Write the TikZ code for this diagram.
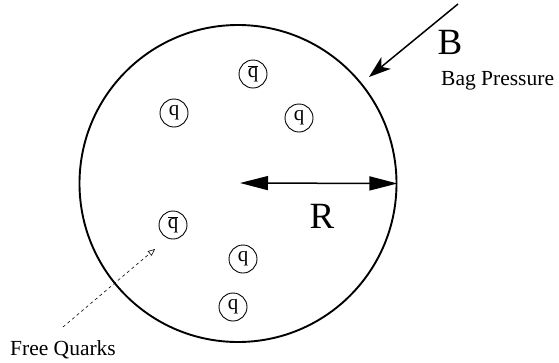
\documentclass[tikz,border=0pt]{standalone}
\usepackage{fontspec}
\setmainfont{Liberation Serif}
\usetikzlibrary{arrows.meta}
\begin{document}
\begin{tikzpicture}[x=1pt,y=-1pt,
  quark/.style={draw,circle,line width=0.9pt,minimum size=28pt,inner sep=0pt,font=\fontsize{21}{21}\selectfont},
  lbl/.style={inner sep=0pt,font=\fontsize{21.5}{21.5}\selectfont},
  big/.style={inner sep=0pt,font=\fontsize{37}{37}\selectfont}]
\useasboundingbox (0,0) rectangle (559,362);
\node[draw,circle,line width=1.9pt,minimum size=317pt,inner sep=0pt] (bag) at (238,183.5) {};
\node[quark] (qb1) at (253,74) {$\overline{\hbox{q}}$};
\node[quark] (q1) at (174,113) {q};
\node[quark] (q2) at (299,118) {q};
\node[quark] (qb2) at (173,225) {$\overline{\hbox{q}}$};
\node[quark] (q3) at (243,259) {q};
\node[quark] (q4) at (233,307) {q};
\coordinate (c) at (240,183);
\draw[line width=1.5pt,{Triangle[length=28pt,width=14pt]}-{Triangle[length=28pt,width=14pt]}] (c) -- (bag.east);
\node[big] (R) at (322,216) {R};
\coordinate (bs) at (458,4);
\coordinate (be) at (369,77);
\draw[line width=1.5pt,-{Stealth[length=22pt,width=15pt,inset=6pt]}] (bs) -- (be);
\node[big] (B) at (450,42) {B};
\node[lbl,anchor=base west] (bp) at (441,85) {Bag Pressure};
\node[lbl] (fq) at (63,350) {Free Quarks};
\coordinate (fs) at (63,327);
\coordinate (fe) at (155,249);
\draw[line width=0.6pt,dashed,-{Triangle[open,length=7pt,width=6pt]}] (fs) -- (fe);
\end{tikzpicture}
\end{document}
